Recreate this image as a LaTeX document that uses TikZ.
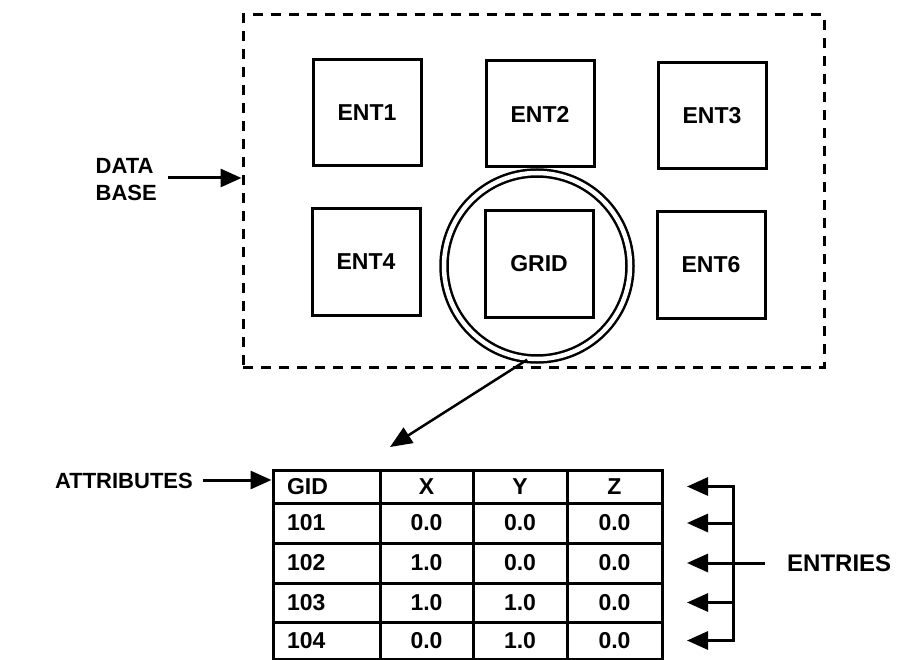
\documentclass[tikz,border=0pt]{standalone}
\usepackage{fontspec}
\setmainfont{Liberation Sans}
\usetikzlibrary{arrows.meta}
\begin{document}
\begin{tikzpicture}[x=1pt,y=-1pt,
  ent/.style={draw, line width=3pt, minimum width=108pt, minimum height=106pt, inner sep=0pt, font=\bfseries\fontsize{23}{26}\selectfont},
  lbl/.style={font=\bfseries\fontsize{22}{25}\selectfont, inner sep=0pt},
  cell/.style={draw, line width=3pt, inner sep=0pt, font=\bfseries\fontsize{23}{25}\selectfont},
  arr/.style={line width=3pt, -{Triangle[length=21pt,width=18pt]}},
  thin/.style={line width=3pt}
]
\useasboundingbox (0,0) rectangle (904,660);
\fill[white] (0,0) rectangle (904,660);

% data base dashed box
\node[draw, line width=3pt, dash pattern=on 10pt off 8pt, minimum width=581pt, minimum height=352pt, inner sep=0pt] (db) at (533.5,191) {};

% ring around GRID
\node[circle, draw, double, double distance=4.5pt, line width=2.5pt, minimum size=186pt, inner sep=0pt] (ring) at (537,266) {};

% entities
\node[ent] (e1) at (367,113) {ENT1};
\node[ent] (e2) at (540,114) {ENT2};
\node[ent] (e3) at (712,116) {ENT3};
\node[ent] (e4) at (366,262) {ENT4};
\node[ent] (grid) at (539,264) {GRID};
\node[ent] (e6) at (711,265) {ENT6};

% data base label
\node[lbl, align=left, anchor=east] (dbl) at (157,180) {DATA\\[2pt]BASE};
\draw[arr] (168,178) coordinate (dbs) -- (dbs -| db.west);

% connector to table
\coordinate (tgt) at (390,447);
\draw[line width=2.5pt, -{Triangle[length=22pt,width=18pt]}] (ring.-96) -- (tgt);

% table
\foreach \r/\t/\b/\a/\x/\y/\z in {0/470/503/GID/X/Y/Z, 1/503/543/101/0.0/0.0/0.0, 2/543/583/102/1.0/0.0/0.0, 3/583/622/103/1.0/1.0/0.0, 4/622/659/104/0.0/1.0/0.0}{
  \node[cell, minimum height={\b-\t}, text width=79pt, inner xsep=14pt, align=left] (c\r-0) at (326.5,{(\t+\b)/2}) {\a};
  \node[cell, minimum height={\b-\t}, minimum width=93pt] (c\r-1) at (426.5,{(\t+\b)/2}) {\x};
  \node[cell, minimum height={\b-\t}, minimum width=94pt] (c\r-2) at (520,{(\t+\b)/2}) {\y};
  \node[cell, minimum height={\b-\t}, minimum width=95pt] (c\r-3) at (614.5,{(\t+\b)/2}) {\z};
}

% attributes
\node[lbl, anchor=east] (attr) at (193,481) {ATTRIBUTES};
\draw[arr] (203,480) coordinate (ats) -- (ats -| c0-0.west);

% entries bracket
\foreach \r in {0,...,4}{
  \coordinate (b\r) at (733, 0 |- c\r-3.center);
  \coordinate (t\r) at (687, 0 |- c\r-3.center);
}
\draw[thin] (b0) -- (b4);
\foreach \r in {0,...,4}{
  \draw[arr] ([xshift=1.5pt]b\r) -- (t\r);
}
\node[font=\bfseries\fontsize{24}{27}\selectfont, inner sep=0pt, anchor=west] (entl) at (787, 0 |- b2) {ENTRIES};
\draw[thin] (b2) -- (b2 -| 765,0);
\end{tikzpicture}
\end{document}
